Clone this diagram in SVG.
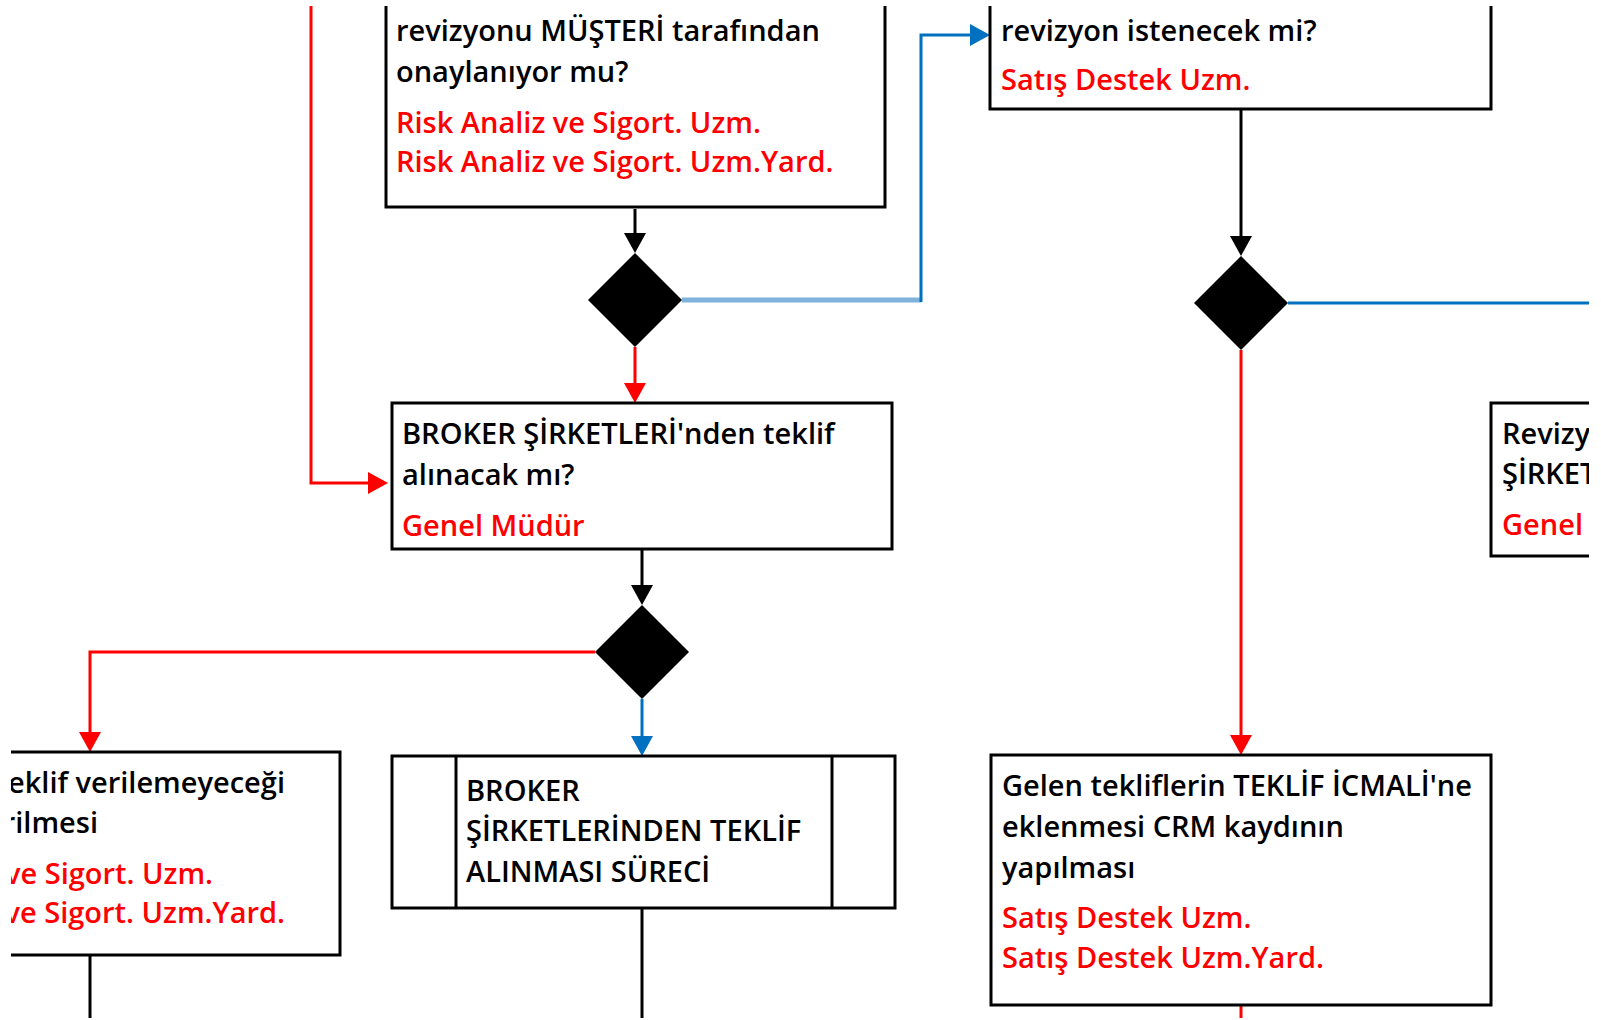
<svg xmlns="http://www.w3.org/2000/svg" width="1601" height="1020" viewBox="0 0 1601 1020">
<defs>
<style>
.box{fill:#fff;stroke:#000;stroke-width:3}
.t{font-family:"Open Sans","Noto Sans","Liberation Sans",sans-serif;font-size:29px;font-weight:600;fill:#000}
.r{fill:#ff0000}
.e{text-anchor:end}
.dia{fill:#000}
.c{fill:none;stroke-width:3}
.k{stroke:#000}
.red{stroke:#ff0000}
.blue{stroke:#0070c0}
</style>
<marker id="ak" markerUnits="userSpaceOnUse" markerWidth="20" markerHeight="22" refX="16" refY="11" orient="auto"><path d="M0,0 L20,11 L0,22 z" fill="#000"/></marker>
<marker id="ar" markerUnits="userSpaceOnUse" markerWidth="20" markerHeight="22" refX="16" refY="11" orient="auto"><path d="M0,0 L20,11 L0,22 z" fill="#ff0000"/></marker>
<marker id="ab" markerUnits="userSpaceOnUse" markerWidth="20" markerHeight="22" refX="16" refY="11" orient="auto"><path d="M0,0 L20,11 L0,22 z" fill="#0070c0"/></marker>
<clipPath id="clip"><rect x="11" y="6" width="1578" height="1012"/></clipPath>
</defs>
<rect width="1601" height="1020" fill="#fff"/>
<g clip-path="url(#clip)">
<g id="connectors">
<path class="c k" d="M635,209 V249" marker-end="url(#ak)"/>
<path class="c red" d="M635,347 V399" marker-end="url(#ar)"/>
<path d="M682,300 H921" fill="none" stroke="#7fb3dd" stroke-width="5"/>
<path class="c blue" d="M921,302 V35 H986" marker-end="url(#ab)"/>
<path class="c k" d="M642,549 V601" marker-end="url(#ak)"/>
<path class="c red" d="M595,652 H90 V748" marker-end="url(#ar)"/>
<path class="c blue" d="M642,699 V752" marker-end="url(#ab)"/>
<path class="c k" d="M642,908 V1020"/>
<path class="c k" d="M90,955 V1020"/>
<path class="c red" d="M311,0 V483 H384" marker-end="url(#ar)"/>
<path class="c k" d="M1241,109 V252" marker-end="url(#ak)"/>
<path class="c blue" d="M1288,303 H1601"/>
<path class="c red" d="M1241,350 V751" marker-end="url(#ar)"/>
<path class="c red" d="M1241,1005 V1020"/>
</g>
<g id="node-musteri-onay">
<rect class="box" x="386" y="-50" width="499" height="257"/>
<text class="t" x="396" y="41">revizyonu MÜŞTERİ tarafından</text>
<text class="t" x="396" y="82">onaylanıyor mu?</text>
<text class="t r" x="396" y="133">Risk Analiz ve Sigort. Uzm.</text>
<text class="t r" x="396" y="172">Risk Analiz ve Sigort. Uzm.Yard.</text>
</g>
<g id="node-revizyon-istenecek">
<rect class="box" x="990" y="-50" width="501" height="159"/>
<text class="t" x="1001" y="41">revizyon istenecek mi?</text>
<text class="t r" x="1001" y="90">Satış Destek Uzm.</text>
</g>
<g id="node-decision-1"><polygon class="dia" points="635,253 682,300 635,347 588,300"/></g>
<g id="node-broker-teklif">
<rect class="box" x="392" y="403" width="500" height="146"/>
<text class="t" x="402" y="444">BROKER ŞİRKETLERİ'nden teklif</text>
<text class="t" x="402" y="485">alınacak mı?</text>
<text class="t r" x="402" y="536">Genel Müdür</text>
</g>
<g id="node-decision-2"><polygon class="dia" points="642,605 689,652 642,699 595,652"/></g>
<g id="node-teklif-verilemez">
<rect class="box" x="-50" y="752" width="390" height="203"/>
<text class="t e" x="285" y="793">eklif verilemeyeceği</text>
<text class="t e" x="98" y="833">rilmesi</text>
<text class="t r e" x="213" y="884">ve Sigort. Uzm.</text>
<text class="t r e" x="285" y="923">ve Sigort. Uzm.Yard.</text>
</g>
<g id="node-broker-sureci">
<rect class="box" x="392" y="756" width="503" height="152"/>
<line x1="456" y1="756" x2="456" y2="908" stroke="#000" stroke-width="3"/>
<line x1="832" y1="756" x2="832" y2="908" stroke="#000" stroke-width="3"/>
<text class="t" x="466" y="801">BROKER</text>
<text class="t" x="466" y="841">ŞİRKETLERİNDEN TEKLİF</text>
<text class="t" x="466" y="882">ALINMASI SÜRECİ</text>
</g>
<g id="node-revizyon-sirket">
<rect class="box" x="1491" y="403" width="200" height="153"/>
<text class="t" x="1502" y="444">Revizy</text>
<text class="t" x="1502" y="484">ŞİRKET</text>
<text class="t r" x="1502" y="535">Genel</text>
</g>
<g id="node-decision-3"><polygon class="dia" points="1241,256 1288,303 1241,350 1194,303"/></g>
<g id="node-teklif-icmali">
<rect class="box" x="991" y="755" width="500" height="250"/>
<text class="t" x="1002" y="796">Gelen tekliflerin TEKLİF İCMALİ'ne</text>
<text class="t" x="1002" y="837">eklenmesi CRM kaydının</text>
<text class="t" x="1002" y="878">yapılması</text>
<text class="t r" x="1002" y="928">Satış Destek Uzm.</text>
<text class="t r" x="1002" y="968">Satış Destek Uzm.Yard.</text>
</g>
</g>
</svg>
